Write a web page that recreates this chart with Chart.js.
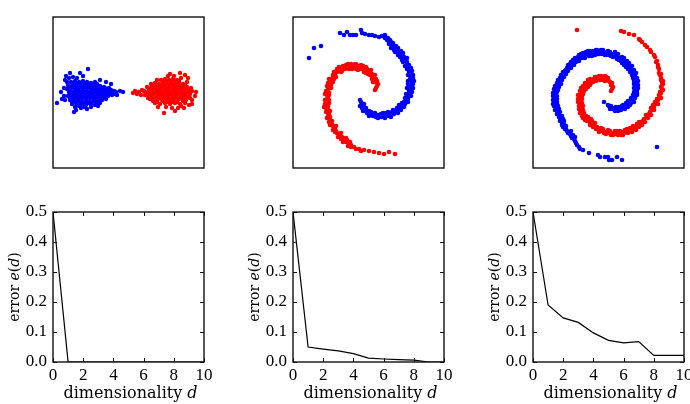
<!DOCTYPE html>
<html>
<head>
<meta charset="utf-8">
<script src="https://cdn.jsdelivr.net/npm/chart.js@4/dist/chart.umd.min.js"></script>
<style>
  html, body { margin: 0; padding: 0; background: #fff; overflow: hidden; }
  body { width: 690px; height: 404px; position: relative; }
  canvas { position: absolute; }
</style>
</head>
<body>
<canvas id="scatterGauss" width="159" height="159" style="left:49px;top:13px"></canvas>
<canvas id="scatterSpiral" width="159" height="159" style="left:289px;top:13px"></canvas>
<canvas id="scatterDouble" width="159" height="159" style="left:529px;top:13px"></canvas>
<canvas id="errorGauss" width="220" height="202" style="left:0px;top:202px"></canvas>
<canvas id="errorSpiral" width="220" height="202" style="left:240px;top:202px"></canvas>
<canvas id="errorDouble" width="220" height="202" style="left:480px;top:202px"></canvas>
<script>
// ================= ERROR CURVES =================
const dims = [0, 1, 2, 3, 4, 5, 6, 7, 8, 9, 10];
const errGauss = [0.5, 0, 0, 0, 0, 0, 0, 0, 0, 0, 0];
const errSpiral = [0.5, 0.05, 0.043, 0.037, 0.028, 0.013, 0.010, 0.008, 0.006, 0, 0];
const errDouble = [0.5, 0.19, 0.147, 0.132, 0.097, 0.072, 0.064, 0.068, 0.022, 0.022, 0.022];
const xTicks = [0, 2, 4, 6, 8, 10];
const yTicks = [0, 0.1, 0.2, 0.3, 0.4, 0.5];

// ================= SCATTER DATA (box units, 0..151) =================
const gaussBlue = [
  [18,86],[22,87],[26,86],[30,87],[34,86],[38,85],[42,86],
  [15,83],[19,82],[23,83],[27,84],[31,82],[35,83],[39,82],[43,83],[47,82],[51,81],
  [14,79],[18,80],[22,79],[26,80],[30,79],[34,80],[38,79],[42,80],[46,79],[50,78],[54,79],[58,78],
  [16,76],[20,75],[24,76],[28,75],[32,76],[36,75],[40,76],[44,75],[48,76],[52,75],[56,76],[60,75],[63,76],
  [15,72],[19,71],[23,72],[27,71],[31,72],[35,71],[39,72],[43,71],[47,72],[51,71],[55,72],[59,73],
  [17,68],[21,67],[25,68],[29,67],[33,68],[37,67],[41,68],[45,67],[49,68],[53,69],
  [19,64],[24,63],[28,64],[33,63],[38,64],[42,63],
  [25,78],[33,74],[41,77],[29,70],[37,81],[45,73],[21,73],[49,74],
  [20,84],[24,85],[28,85],[32,84],[36,84],[40,84],[44,84],
  [16,81],[20,81],[24,81],[28,81],[32,81],[36,81],[40,81],[44,81],[48,80],[52,80],[56,80],
  [18,77],[22,77],[26,77],[30,77],[34,77],[38,77],[42,78],[46,77],[50,77],[54,77],[58,77],[61,77],
  [17,74],[21,74],[25,74],[29,74],[37,74],[41,74],[45,74],[53,74],[57,74],[61,74],
  [17,70],[21,69],[25,70],[33,70],[37,70],[41,70],[45,69],[49,70],[53,71],
  [19,66],[23,65],[27,66],[31,65],[35,65],[39,66],[43,65],[47,65],
  [4,65],[9,69],[8,76],[12,88],[13,92],[17,95],[20,91],[27,95],[30,92],[35,99],[23,58],[21,56],
  [28,60],[34,59],[38,61],[45,62],[67,77],[70,76],[64,73],[58,84],[53,86],[11,72],[47,88],
  [14,86],[16,90],[24,90],[22,61],[26,62],[31,61],[11,80],[12,68]
];
const gaussRed = [
  [80,75],[82,77],[84,74],[86,76],[88,73],[89,78],
  [108,88],[112,89],[116,88],[120,89],[124,88],[128,90],
  [98,84],[102,85],[106,84],[110,85],[114,84],[118,85],[122,84],[126,85],[130,84],[134,86],
  [94,81],[98,80],[102,81],[106,80],[110,81],[114,80],[118,81],[122,80],[126,81],[130,80],[134,81],[138,80],
  [91,77],[95,76],[99,77],[103,76],[107,77],[111,76],[115,77],[119,76],[123,77],[127,76],[131,77],[135,76],[139,77],
  [92,73],[96,72],[100,73],[104,72],[108,73],[112,72],[116,73],[120,72],[124,73],[128,72],[132,73],[136,72],
  [97,69],[101,68],[105,69],[109,68],[113,69],[117,68],[121,69],[125,68],[129,69],[133,68],[137,70],
  [102,65],[107,64],[112,65],[117,64],[122,65],[127,64],[132,65],
  [105,79],[113,75],[121,78],[129,74],[117,82],[109,71],[125,83],[101,75],
  [110,87],[114,87],[118,87],[122,87],[126,87],
  [100,83],[104,83],[108,83],[112,83],[116,83],[120,83],[124,83],[128,83],[132,83],
  [96,79],[100,79],[104,78],[108,79],[112,78],[116,79],[120,78],[124,79],[128,78],[132,79],[136,78],
  [93,75],[97,74],[105,75],[109,74],[117,74],[121,75],[125,75],[133,75],[137,74],
  [95,70],[99,71],[103,70],[107,71],[111,70],[115,71],[119,70],[123,71],[127,70],[131,71],[135,71],
  [100,67],[104,66],[110,67],[114,66],[119,66],[124,66],[130,67],
  [111,55],[122,57],[127,95],[117,94],[142,72],[139,64],[139,68],[131,60],[125,60],[105,61],
  [135,90],[132,93],[115,92],[143,76],[113,61],[119,60],[128,62],[136,63],[104,88],[121,92]
];
const spiralBlue = [
  [16,110],[21,120],[28,122],[47,135],[51,133],[54,136],[57,133],[60,133],[63,133],[68,138],
  [69,135],[72,134],[76,133],[79,133],[82,132],[86,131],[89,132],[92,133],
  [94,128],[96,126],[92,130],[95,130],[97,128],[96,124],[98,126],
  [99,123],[101,121],[98,120],[100,125],[102,120],[101,118],[103,122],
  [104,118],[106,116],[102,116],[105,120],[107,115],[105,113],[108,117],
  [109,113],[111,111],[107,111],[110,115],[111,110],[109,108],[113,109],
  [112,108],[114,106],[110,106],[114,110],[114,104],[116,103],[112,102],
  [116,101],[118,100],[114,99],[117,98],[116,96],[119,97],
  [117,94],[120,93],[115,93],[118,91],[117,89],[120,90],
  [118,88],[121,87],[115,87],[119,85],[117,83],[120,84],[115,84],
  [117,81],[120,80],[114,80],[118,78],[116,77],[119,76],
  [116,74],[118,72],[113,74],[114,71],[115,69],[112,70],
  [113,68],[115,66],[111,66],[112,64],[109,65],[110,62],
  [109,63],[111,61],[107,61],[106,63],[106,59],[104,60],[108,58],
  [104,58],[102,56],[105,55],[100,58],[101,54],[99,56],
  [97,54],[96,52],[98,51],[95,56],[94,52],[93,55],[92,50],
  [91,53],[89,51],[90,55],[88,54],[87,51],[86,53],
  [84,53],[83,51],[82,55],[85,50],[80,52],[79,55],
  [77,54],[76,52],[76,57],[78,56],[74,55],[73,57],
  [72,58],[70,57],[73,60],[71,61],[69,60],
  [69,63],[67,62],[71,64],[67,68],[68,66]
];
const spiralRed = [
  [83,80],[84,82],[82,78],[85,84],[82,86],[84,87],[80,86],[83,89],
  [81,91],[79,92],[82,93],[79,89],[79,94],[77,93],
  [77,95],[76,97],[78,98],[75,94],[74,97],[74,99],[73,95],
  [72,98],[70,100],[71,96],[73,101],[69,99],[70,102],
  [67,100],[66,102],[65,98],[68,103],[64,101],[63,104],[63,99],
  [61,101],[60,103],[59,99],[62,104],[57,101],[58,104],[56,99],
  [54,101],[53,103],[52,99],[55,104],[51,100],[50,102],[49,97],
  [47,99],[46,101],[45,97],[48,96],[44,96],[44,99],
  [42,94],[41,96],[40,93],[43,91],[40,91],[39,89],[41,89],
  [38,88],[36,89],[37,86],[40,86],[37,84],[35,85],[38,83],
  [36,81],[34,82],[35,79],[38,80],[35,77],[33,77],[36,75],
  [34,73],[32,74],[35,71],[36,73],[34,69],[32,68],[36,68],
  [34,64],[32,64],[35,62],[36,65],[33,60],[35,59],[31,61],
  [35,56],[33,56],[36,54],[37,57],[35,52],[37,51],[34,50],
  [37,48],[36,46],[39,47],[38,44],[39,44],[40,42],[37,43],
  [41,41],[42,39],[40,38],[43,42],[43,37],[44,35],[42,36],
  [46,34],[47,32],[45,31],[48,35],[49,31],[48,29],
  [51,29],[52,27],[50,26],[53,30],[53,26],[54,28],
  [56,24],[55,22],[57,26],[58,23],
  [61,21],[63,19],[66,19],[71,18],[76,17],[81,16],[86,15],[91,14],[96,16],[102,14],[68,17],[58,21]
];
const doubleBlue = [
  [46,21],[44,23],[47,19],[43,25],[42,27],[41,29],[39,30],[42,31],[38,32],[40,33],
  [37,34],[35,35],[38,37],[34,37],[33,39],
  [32,39],[30,41],[33,42],[31,44],[29,43],[31,47],
  [29,46],[27,47],[30,49],[28,50],[27,50],[26,51],[29,52],
  [26,53],[24,54],[27,56],[25,57],[24,57],[26,59],[22,58],
  [23,61],[21,62],[25,62],[24,64],[22,65],[24,66],[20,64],
  [22,68],[20,68],[24,69],[21,71],[22,71],[24,72],[20,72],
  [22,74],[20,75],[24,76],[22,77],[23,78],[21,79],[25,78],
  [24,81],[22,82],[26,81],[25,84],[26,85],[24,85],[28,84],
  [27,88],[25,88],[29,88],[27,90],[29,91],[28,93],[31,91],
  [31,94],[30,96],[33,94],[32,97],[33,98],[34,100],[35,97],
  [36,101],[35,103],[38,100],[37,104],[39,103],[38,106],[41,103],
  [41,106],[40,108],[43,106],[42,110],[44,108],[45,111],[46,107],
  [47,111],[46,113],[49,110],[48,114],[51,112],[50,115],[52,110],
  [54,114],[53,116],[56,112],[55,117],[58,115],[57,117],[59,112],
  [61,115],[60,117],[62,113],[63,118],[64,116],[65,114],[64,118],
  [67,116],[68,118],[69,114],[66,114],[71,116],[70,118],[72,113],
  [74,115],[75,117],[76,113],[73,113],[78,114],[77,116],[78,112],
  [81,114],[82,116],[80,111],[83,112],[84,112],[85,114],[84,109],
  [87,110],[89,111],[86,108],[88,107],[90,108],[91,110],[89,105],
  [92,106],[94,107],[91,103],[93,104],[95,103],[96,105],[93,101],
  [97,101],[99,102],[95,99],[98,98],[99,97],[101,98],[97,96],
  [101,94],[103,95],[99,93],[102,92],[102,91],[104,90],[100,90],
  [103,88],[105,87],[101,87],[103,85],[103,84],[105,83],[101,84],
  [103,81],[105,80],[101,80],[104,78],[103,77],[101,76],[104,75],
  [102,74],[104,73],[100,73],[101,71],[100,70],[102,70],[98,70],
  [99,68],[101,66],[97,67],[98,65],[96,65],[97,63],[95,67],
  [94,63],[95,61],[93,65],[92,62],[91,61],[92,59],[90,63],
  [89,60],[88,58],[89,62],[87,61],[86,59],[86,61],[85,57],
  [84,59],[83,61],[82,57],[81,60],[80,59],[79,60],[78,62],[77,59],[76,62],[75,63],[71,66],
  [124,21],[89,8],[84,11],[79,8],[76,8],[75,11],[72,11],[67,11],[65,13],[56,15],[50,18]
];
const doubleRed = [
  [79,79],[80,81],[78,77],[77,86],[79,85],[78,83],[76,87],[75,90],
  [74,89],[73,91],[72,87],[71,90],[72,92],[70,88],
  [69,90],[68,92],[67,88],[66,90],[66,92],
  [64,89],[63,91],[63,87],[61,89],[62,91],[60,86],
  [59,88],[57,89],[58,85],[56,86],[55,88],[57,83],
  [54,84],[52,85],[55,81],[53,82],[52,81],[50,82],[53,79],
  [50,79],[48,80],[51,77],[49,76],[47,77],[50,74],
  [47,73],[45,73],[49,72],[46,70],[47,70],[45,69],[49,69],
  [47,66],[45,66],[49,65],[47,63],[46,62],[48,61],[50,62],
  [48,59],[46,59],[50,58],[48,56],[49,56],[51,55],[47,55],
  [51,53],[49,52],[53,52],[50,50],[53,50],[52,48],[55,51],
  [56,48],[54,47],[57,46],[58,49],[58,45],[59,47],[57,43],
  [61,43],[60,41],[62,45],[63,41],[64,41],[65,39],[63,39],
  [67,38],[66,36],[68,40],[69,37],[70,37],[71,35],[70,39],
  [74,36],[73,34],[75,38],[76,35],[77,35],[78,33],[77,37],
  [81,35],[80,33],[82,37],[83,34],[84,35],[85,33],[84,37],
  [87,35],[88,33],[87,37],[90,36],[91,35],[92,38],[90,33],
  [94,37],[95,35],[94,39],[96,38],[98,38],[97,40],[99,36],
  [101,39],[102,41],[100,42],[103,38],[104,42],[104,44],[106,41],
  [107,44],[108,46],[106,46],[109,43],[110,47],[111,49],[112,46],
  [114,51],[113,53],[115,50],[116,53],[116,54],[117,56],[118,53],
  [119,58],[118,60],[121,58],[121,61],[120,63],
  [123,64],[122,66],[125,64],[125,68],[124,69],
  [127,71],[126,73],[128,70],[128,75],[127,76],
  [129,79],[128,81],[130,78],[129,83],[130,84],
  [129,86],[128,88],[130,87],[128,90],[127,93],[126,95],[128,94],
  [126,99],[125,101],[125,103],[123,106],[124,107],[121,113],[122,111],
  [117,118],[118,116],[112,123],[114,121],[109,126],[106,129],[107,128],
  [101,133],[96,134],[91,136],[88,137],[44,138]
];

// ================= FRAME / INWARD TICKS / MIXED-STYLE TITLES =================
function drawParts(ctx, text, cx, y, size) {
  const parts = text.split('|');
  const fonts = parts.map((p, i) => (i % 2 ? 'italic ' : '') + size + 'px "DejaVu Serif"');
  let total = 0;
  const widths = parts.map((p, i) => { ctx.font = fonts[i]; const w = ctx.measureText(p).width; total += w; return w; });
  let x = cx - total / 2;
  ctx.textAlign = 'left';
  ctx.textBaseline = 'alphabetic';
  parts.forEach((p, i) => { ctx.font = fonts[i]; ctx.fillText(p, x, y); x += widths[i]; });
}

const framePlugin = {
  id: 'frame',
  afterDraw(chart, args, opts) {
    const ctx = chart.ctx, a = chart.chartArea;
    ctx.save();
    ctx.strokeStyle = '#111';
    ctx.lineWidth = 1.4;
    ctx.strokeRect(a.left, a.top, a.right - a.left, a.bottom - a.top);
    if (opts.ticks) {
      const xs = chart.scales.x, ys = chart.scales.y;
      ctx.lineWidth = 1;
      ctx.beginPath();
      xs.ticks.forEach(t => {
        const px = Math.round(xs.getPixelForValue(t.value)) + 0.5;
        ctx.moveTo(px, a.bottom); ctx.lineTo(px, a.bottom - 4);
        ctx.moveTo(px, a.top); ctx.lineTo(px, a.top + 4);
      });
      ys.ticks.forEach(t => {
        const py = Math.round(ys.getPixelForValue(t.value)) + 0.5;
        ctx.moveTo(a.left, py); ctx.lineTo(a.left + 4, py);
        ctx.moveTo(a.right, py); ctx.lineTo(a.right - 4, py);
      });
      ctx.stroke();
    }
    ctx.fillStyle = '#000';
    if (opts.xTitle) drawParts(ctx, opts.xTitle, (a.left + a.right) / 2 + 2, a.bottom + 36, 16);
    if (opts.yTitle) {
      ctx.translate(19, (a.top + a.bottom) / 2);
      ctx.rotate(-Math.PI / 2);
      drawParts(ctx, opts.yTitle, 0, 0, 14);
    }
    ctx.restore();
  }
};
Chart.register(framePlugin);

function toXY(pairs) {
  return pairs.map(p => ({ x: p[0], y: p[1] }));
}

function scatterChart(id, blue, red, radius) {
  new Chart(document.getElementById(id), {
    type: "scatter",
    data: {
      datasets: [
        { data: toXY(blue), backgroundColor: "#0000ff", borderWidth: 0, pointRadius: radius },
        { data: toXY(red), backgroundColor: "#ff0000", borderWidth: 0, pointRadius: radius }
      ]
    },
    options: {
      responsive: false,
      animation: false,
      events: [],
      layout: { padding: 4 },
      plugins: { legend: { display: false }, tooltip: { enabled: false }, frame: {} },
      scales: {
        x: { type: "linear", display: false, min: 0, max: 151 },
        y: { type: "linear", display: false, min: 0, max: 151 }
      }
    }
  });
}

function errorChart(id, errors) {
  const tickFont = { family: "'Liberation Serif'", size: 17 };
  new Chart(document.getElementById(id), {
    type: "line",
    data: {
      datasets: [{
        data: dims.map((d, i) => ({ x: d, y: errors[i] })),
        borderColor: "#000",
        borderWidth: 1.2,
        pointRadius: 0,
        tension: 0,
        fill: false
      }]
    },
    options: {
      responsive: false,
      animation: false,
      events: [],
      layout: { padding: { top: 10, right: 16 } },
      plugins: {
        legend: { display: false },
        tooltip: { enabled: false },
        frame: { ticks: true, xTitle: "dimensionality |d", yTitle: "error |e|(|d|)" }
      },
      scales: {
        x: {
          type: "linear", min: 0, max: 10,
          grid: { display: false, drawTicks: false }, border: { display: false },
          afterBuildTicks: s => { s.ticks = xTicks.map(v => ({ value: v })); },
          ticks: { font: tickFont, color: "#000", padding: 3, maxRotation: 0 },
          afterFit: s => { s.height = 42; s.paddingLeft = 0; s.paddingRight = 0; }
        },
        y: {
          type: "linear", min: 0, max: 0.5,
          grid: { display: false, drawTicks: false }, border: { display: false },
          afterBuildTicks: s => { s.ticks = yTicks.map(v => ({ value: v })); },
          ticks: { font: tickFont, color: "#000", padding: 6, callback: v => v.toFixed(1) },
          afterFit: s => { s.width = 53; s.paddingTop = 0; s.paddingBottom = 0; }
        }
      }
    }
  });
}

scatterChart("scatterGauss", gaussBlue, gaussRed, 2.2);
scatterChart("scatterSpiral", spiralBlue, spiralRed, 2.3);
scatterChart("scatterDouble", doubleBlue, doubleRed, 2.3);

errorChart("errorGauss", errGauss);
errorChart("errorSpiral", errSpiral);
errorChart("errorDouble", errDouble);
</script>
</body>
</html>
